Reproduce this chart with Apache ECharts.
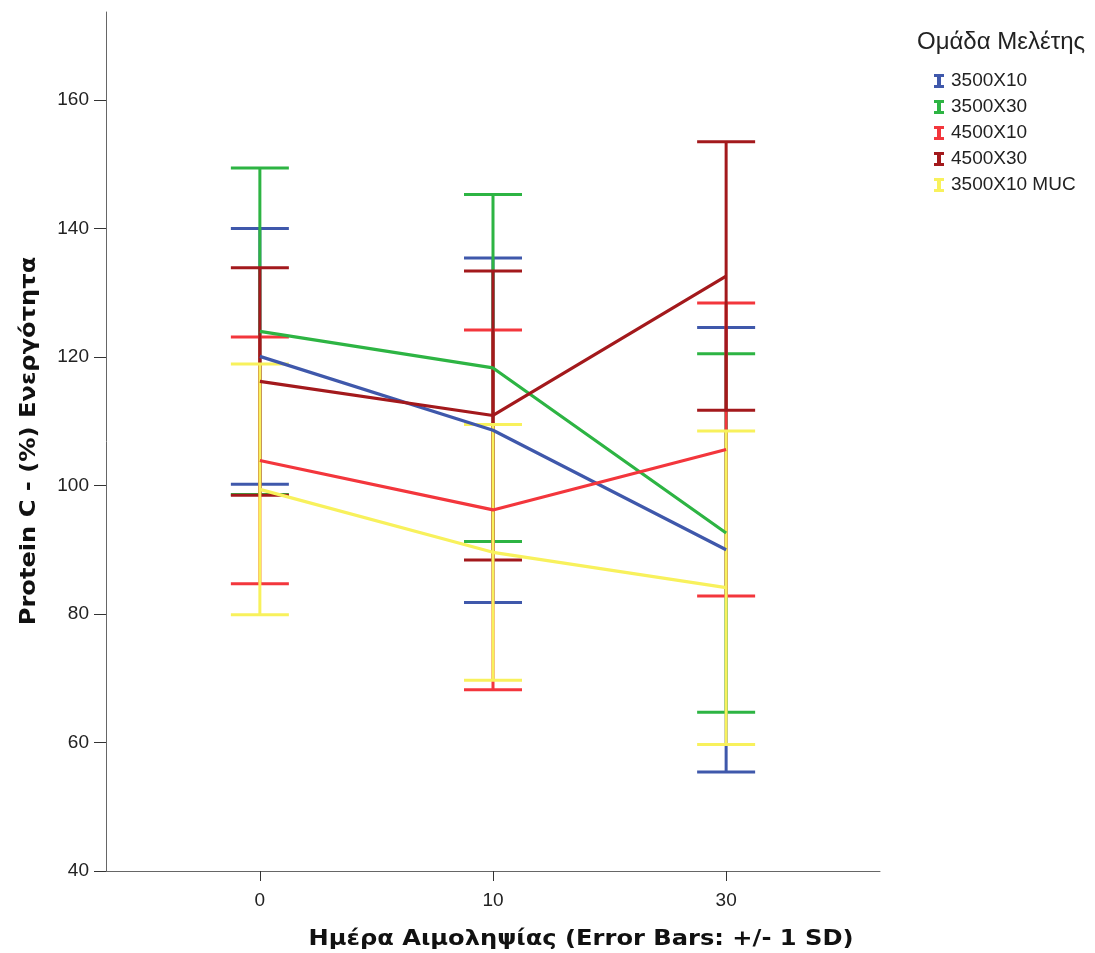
<!DOCTYPE html>
<html>
<head>
<meta charset="utf-8">
<script src="https://cdn.jsdelivr.net/npm/echarts@6/dist/echarts.min.js"></script>
<style>html,body{margin:0;padding:0;background:#fff}#c{width:1095px;height:953px}</style>
</head>
<body>
<div id="c"></div>
<script>
// ---- data ----
const days = ['0', '10', '30'];
const yTicks = [40, 60, 80, 100, 120, 140, 160];
const groups = ['3500X10', '3500X30', '4500X10', '4500X30', '3500X10 MUC'];
const mean_3500X10 = [120.1, 108.6, 90.0];
const sd_3500X10 = [19.9, 26.8, 34.6];
const mean_3500X30 = [124.0, 118.3, 92.6];
const sd_3500X30 = [25.4, 27.0, 27.9];
const mean_4500X10 = [103.9, 96.2, 105.6];
const sd_4500X10 = [19.2, 28.0, 22.8];
const mean_4500X30 = [116.2, 110.9, 132.6];
const sd_4500X30 = [17.7, 22.5, 20.9];
const mean_MUC = [99.4, 89.6, 84.1];
const sd_MUC = [19.5, 19.9, 24.4];

const means = [mean_3500X10, mean_3500X30, mean_4500X10, mean_4500X30, mean_MUC];
const sds = [sd_3500X10, sd_3500X30, sd_4500X10, sd_4500X30, sd_MUC];
const colors = ['#3f58ab', '#2db443', '#f3363c', '#a3191c', '#f8f15c'];

const FONT = '"Liberation Sans", Arial, sans-serif';
const TFONT = '"DejaVu Sans", sans-serif';
const CAP = 29;

const series = [];
groups.forEach((g, i) => {
  series.push({
    name: g,
    type: 'custom',
    itemStyle: { color: colors[i] },
    data: means[i].map((m, k) => [k, m - sds[i][k], m + sds[i][k]]),
    renderItem: function (params, api) {
      const x = api.value(0);
      const lo = api.coord([x, api.value(1)]);
      const hi = api.coord([x, api.value(2)]);
      const st = { stroke: colors[i], lineWidth: 3, fill: null };
      return {
        type: 'group',
        children: [
          { type: 'line', shape: { x1: lo[0], y1: lo[1], x2: hi[0], y2: hi[1] }, style: st },
          { type: 'line', shape: { x1: hi[0] - CAP, y1: hi[1], x2: hi[0] + CAP, y2: hi[1] }, style: st },
          { type: 'line', shape: { x1: lo[0] - CAP, y1: lo[1], x2: lo[0] + CAP, y2: lo[1] }, style: st }
        ]
      };
    },
    z: 2
  });
});
groups.forEach((g, i) => {
  series.push({
    name: g,
    type: 'line',
    data: means[i].map((m, k) => [k, m]),
    symbol: 'none',
    lineStyle: { color: colors[i], width: 3.2 },
    itemStyle: { color: colors[i] },
    z: 3
  });
});

const chart = echarts.init(document.getElementById('c'));
chart.setOption({
  animation: false,
  backgroundColor: '#fff',
  grid: { left: 106, right: 215, top: 12, bottom: 82 },
  xAxis: {
    type: 'value',
    min: -0.66, max: 2.66,
    splitLine: { show: false },
    axisLine: { show: true, onZero: false, lineStyle: { color: '#666', width: 1 } },
    axisTick: { show: true, customValues: days.map((d, k) => k), length: 10, lineStyle: { color: '#333' } },
    axisLabel: { customValues: days.map((d, k) => k), formatter: v => days[Math.round(v)], color: '#222', fontSize: 19, fontFamily: FONT, margin: 20 }
  },
  yAxis: {
    type: 'value',
    min: 40, max: 173.7,
    splitLine: { show: false },
    axisLine: { show: true, onZero: false, lineStyle: { color: '#666', width: 1 } },
    axisTick: { show: true, customValues: yTicks, length: 12, lineStyle: { color: '#333' } },
    axisLabel: { customValues: yTicks, color: '#222', fontSize: 19, fontFamily: FONT, margin: 17 }
  },
  legend: {
    orient: 'vertical',
    left: 929, top: 66,
    itemWidth: 10, itemHeight: 14,
    itemGap: 6,
    icon: 'path://M0,0 H10 V3 H7 V11 H10 V14 H0 V11 H3 V3 H0 Z',
    data: groups,
    textStyle: { color: '#222', fontSize: 19, lineHeight: 20, fontFamily: FONT, padding: [0, 0, 0, 2] },
    selectedMode: false
  },
  graphic: [
    { type: 'text', left: 917, top: 30, style: { text: 'Ομάδα Μελέτης', fill: '#222', font: '24px ' + FONT } },
    { type: 'text', x: 581, y: 940, scaleX: 1.15, style: { text: 'Ημέρα Αιμοληψίας (Error Bars: +/- 1 SD)', fill: '#111', font: 'bold 21px ' + TFONT, align: 'center', verticalAlign: 'middle' } },
    { type: 'text', x: 30, y: 441, rotation: Math.PI / 2, scaleX: 1.15, style: { text: 'Protein C - (%) Ενεργότητα', fill: '#111', font: 'bold 21px ' + TFONT, align: 'center', verticalAlign: 'middle' } }
  ],
  series: series
});
</script>
</body>
</html>
